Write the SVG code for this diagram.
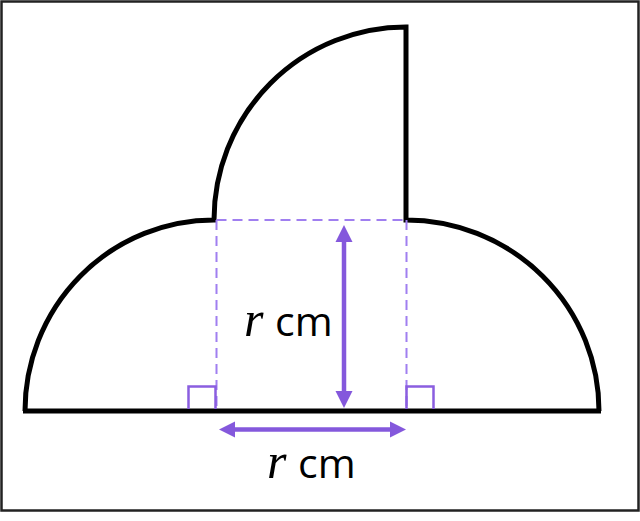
<svg xmlns="http://www.w3.org/2000/svg" width="640" height="521" viewBox="0 0 640 521">
<defs>
<style>
.frame{fill:none;stroke:#222;stroke-width:2.5}
.shape{fill:none;stroke:#000;stroke-width:5;stroke-linejoin:miter}
.dash{fill:none;stroke:#a07ff0;stroke-width:2;stroke-dasharray:10 6}
.ra{fill:none;stroke:#8a5ee0;stroke-width:2.5}
.arrow{fill:none;stroke:#8458dc;stroke-width:4.5}
.head{fill:#8458dc}
.var{font-family:"Liberation Serif","Times New Roman",serif;font-style:italic;font-size:50px;fill:#000}
.unit{font-family:"Open Sans","Liberation Sans",sans-serif;font-size:41px;font-weight:500;fill:#000}
</style>
</defs>
<rect class="frame" x="1.5" y="1.5" width="637" height="509"/>
<g id="shape">
<path class="shape" d="M 23 411 H 601 M 25 411 A 189 191 0 0 1 214 220 A 192 193 0 0 1 406 27 V 220 A 193 191 0 0 1 599 411"/>
</g>
<g id="square">
<path class="dash" d="M 216.5 220 H 406.5 M 216.5 220 V 409 M 406.5 220 V 409"/>
<path class="ra" d="M 188.5 409 V 386.5 H 215.5 V 409"/>
<path class="ra" d="M 406.5 409 V 386.5 H 433.5 V 409"/>
</g>
<g id="connectors">
<line class="arrow" x1="344" y1="238" x2="344" y2="395"/>
<polygon class="head" points="344,225 335.5,242 352.5,242"/>
<polygon class="head" points="344,408 335.5,391 352.5,391"/>
<line class="arrow" x1="232" y1="429.5" x2="393" y2="429.5"/>
<polygon class="head" points="219,429.5 235,421.5 235,437.5"/>
<polygon class="head" points="406,429.5 390,421.5 390,437.5"/>
</g>
<g id="label-height">
<text class="var" x="244" y="336">r</text>
<text class="unit" x="275" y="336">cm</text>
</g>
<g id="label-width">
<text class="var" x="267" y="478">r</text>
<text class="unit" x="298" y="478">cm</text>
</g>
</svg>
